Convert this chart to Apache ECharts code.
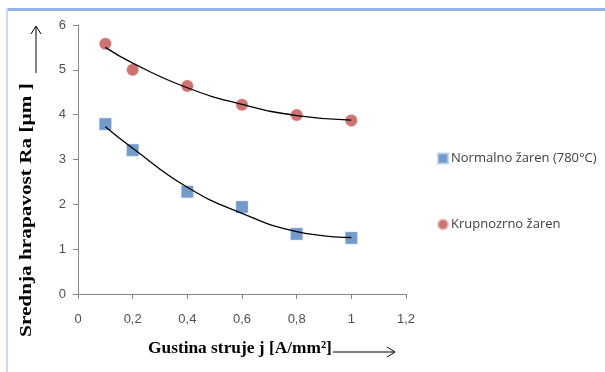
<!DOCTYPE html>
<html><head><meta charset="utf-8">
<script src="https://cdn.jsdelivr.net/npm/echarts@6/dist/echarts.min.js"></script>
<style>html,body{margin:0;padding:0;background:#fff}#c{width:605px;height:372px}</style>
</head><body><div id="c"></div>
<script>
var xValues = [0.1, 0.2, 0.4, 0.6, 0.8, 1.0];
var normalnoValues = [3.79, 3.21, 2.28, 1.94, 1.34, 1.25];
var krupnozrnoValues = [5.58, 5.0, 4.64, 4.22, 3.99, 3.87];
var normalnoTrend = [3.73, 3.25, 2.38, 1.80, 1.39, 1.26];
var krupnozrnoTrend = [5.50, 5.15, 4.60, 4.23, 3.98, 3.88];
var seriesNames = ['Normalno žaren (780°C)', 'Krupnozrno žaren'];
var xTitle = 'Gustina struje j [A/mm²]';
var yTitle = 'Srednja hrapavost Ra [µm ]';

function pairs(xs, ys){ return xs.map(function(x,i){ return [x, ys[i]]; }); }
function fmt(v){ return String(v).replace('.', ','); }

var chart = echarts.init(document.getElementById('c'), null, {renderer:'canvas'});
var labelStyle = {color:'#505050', fontSize:13, fontFamily:'Liberation Sans, Arial, sans-serif'};
chart.setOption({
  animation:false,
  grid:{left:78, top:25, width:328, height:269, containLabel:false},
  xAxis:{type:'value', min:0, max:1.2, interval:0.2,
    axisLine:{show:true, onZero:false, lineStyle:{color:'#868686'}},
    axisTick:{show:true, inside:false, length:5, lineStyle:{color:'#868686'}},
    splitLine:{show:false},
    axisLabel:Object.assign({margin:19, formatter:fmt}, labelStyle)},
  yAxis:{type:'value', min:0, max:6, interval:1,
    axisLine:{show:true, lineStyle:{color:'#868686'}},
    axisTick:{show:true, length:5, lineStyle:{color:'#868686'}},
    splitLine:{show:false},
    axisLabel:Object.assign({margin:12}, labelStyle)},
  legend:{orient:'vertical', left:432, top:147, itemGap:53, itemWidth:10, itemHeight:10,
    textStyle:{color:'#404040', fontSize:13, fontFamily:'Open Sans, Liberation Sans, sans-serif', padding:[0,0,0,-2]},
    data:[{name:seriesNames[0], icon:'rect'}, {name:seriesNames[1], icon:'circle'}]},
  series:[
    {name:seriesNames[0]+' trend', type:'line', smooth:0.5, symbol:'none', data:pairs(xValues, normalnoTrend),
      lineStyle:{color:'#000', width:1.3}, z:3, silent:true},
    {name:seriesNames[1]+' trend', type:'line', smooth:0.5, symbol:'none', data:pairs(xValues, krupnozrnoTrend),
      lineStyle:{color:'#000', width:1.3}, z:3, silent:true},
    {name:seriesNames[0], type:'scatter', symbol:'rect', symbolSize:12, data:pairs(xValues, normalnoValues),
      itemStyle:{color:'#4f81bd', borderColor:'#b9cde5', borderWidth:0.6}, z:2},
    {name:seriesNames[1], type:'scatter', symbol:'circle', symbolSize:12, data:pairs(xValues, krupnozrnoValues),
      itemStyle:{color:'#c0504d', borderColor:'#e6b9b8', borderWidth:0.6}, z:2}
  ],
  graphic:[
    {type:'line', shape:{x1:6, y1:9.5, x2:605, y2:9.5}, style:{stroke:'#93b1e3', lineWidth:3}},
    {type:'line', shape:{x1:7, y1:8, x2:7, y2:372}, style:{stroke:'#c9d8f2', lineWidth:2}},
    {type:'text', x:27, y:210, rotation:Math.PI/2, scaleX:1.25, style:{text:yTitle, align:'center', verticalAlign:'middle', fill:'#000', font:'bold 17px "Liberation Serif", serif'}},
    {type:'line', shape:{x1:36, y1:73, x2:36, y2:27}, style:{stroke:'#000', lineWidth:1}},
    {type:'polyline', shape:{points:[[31,34],[36,26],[41,34]]}, style:{stroke:'#000', lineWidth:1, fill:null}},
    {type:'text', x:148, y:349, scaleX:1.02, style:{text:xTitle, align:'left', verticalAlign:'middle', fill:'#000', font:'bold 17px "Liberation Serif", serif'}},
    {type:'line', shape:{x1:333, y1:352, x2:394, y2:352}, style:{stroke:'#000', lineWidth:1}},
    {type:'polyline', shape:{points:[[387,347],[395,352],[387,357]]}, style:{stroke:'#000', lineWidth:1, fill:null}}
  ]
});
</script></body></html>
